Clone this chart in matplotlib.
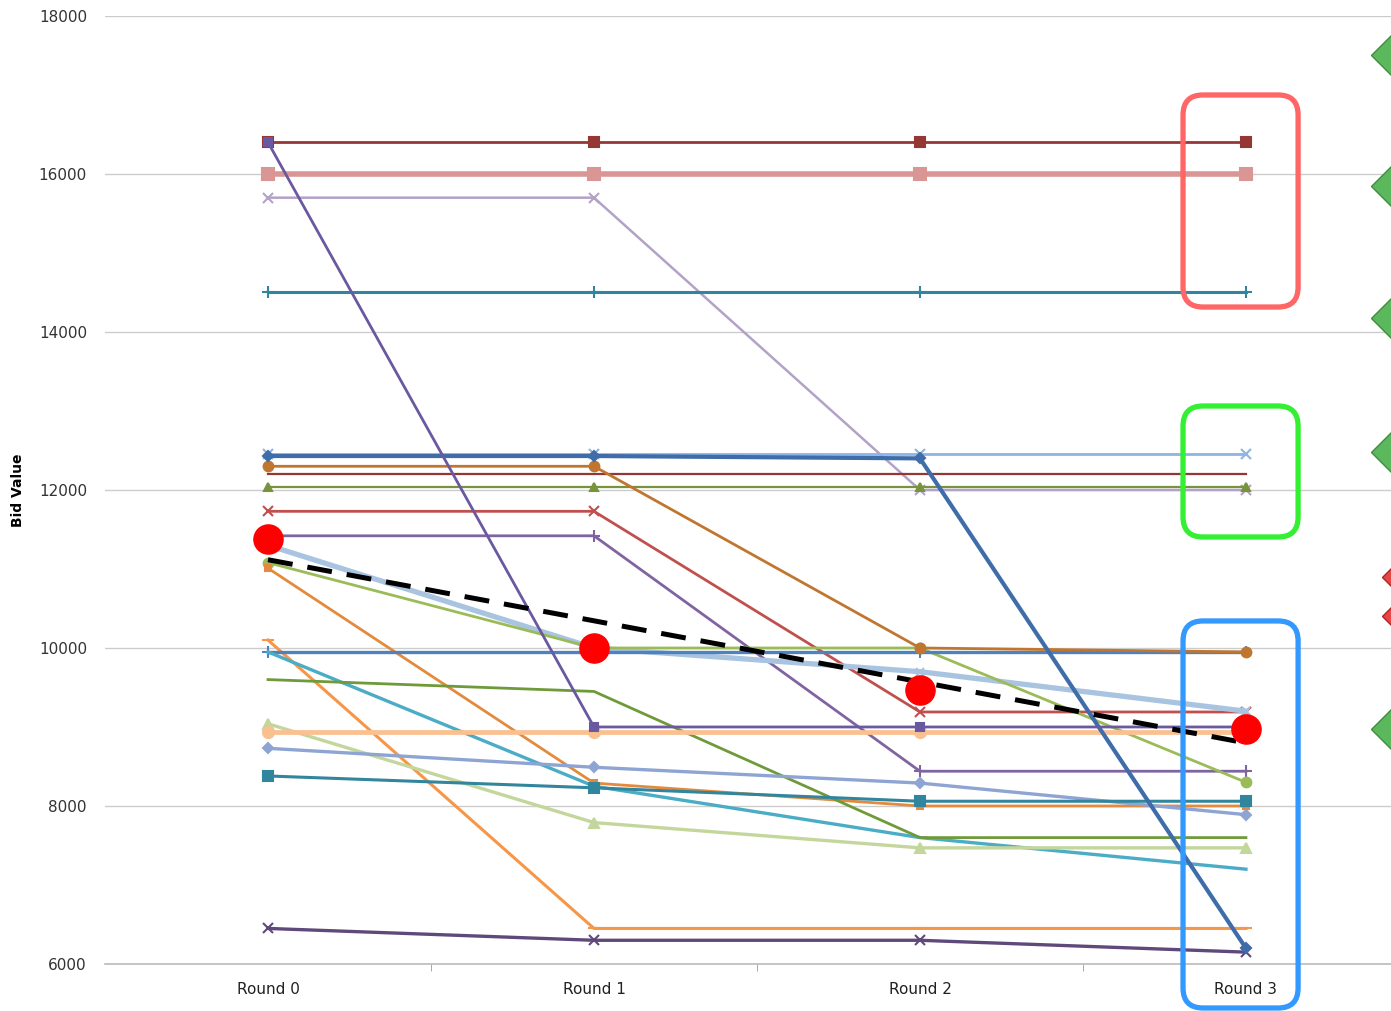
import numpy as np
import matplotlib
matplotlib.use('Agg')
from matplotlib import pyplot as plt
from matplotlib.patches import FancyBboxPatch
from matplotlib.transforms import IdentityTransform

rounds = ['Round 0', 'Round 1', 'Round 2', 'Round 3']

# bidder series
darkred_sq = [16400, 16400, 16400, 16400]
pink_sq = [16000, 16000, 16000, 16000]
lavender_x = [15700, 15700, 12000, 12000]
teal_star = [14500, 14500, 14500, 14500]
blue_drop = [12430, 12430, 12400, 6200]
ltblue_x = [12460, 12460, 12460, 12460]
brown_circ = [12300, 12300, 10000, 9950]
maroon = [12200, 12200, 12200, 12200]
olive_tri = [12040, 12040, 12040, 12040]
red_star = [11730, 11730, 9190, 9190]
purple_plus = [11420, 11420, 8440, 8440]
steel = [11300, 10000, 9700, 9200]
green_circ = [11080, 10000, 10000, 8300]
orange_mid = [11010, 8290, 8000, 8000]
orange_sq = [10100, 6450, 6450, 6450]
blue_plus = [9950, 9950, 9950, 9950]
cyan = [9950, 8250, 7600, 7200]
olive = [9600, 9450, 7600, 7600]
ltgreen_tri = [9040, 7790, 7470, 7470]
peach = [8940, 8940, 8940, 8940]
peri_dia = [8730, 8490, 8290, 7890]
teal_sq = [8380, 8230, 8060, 8060]
dkpurple_x = [6450, 6300, 6300, 6150]
purple_sq = [16400, 9000, 9000, 9000]
means = [11380, 10000, 9470, 8980]

# highlight boxes around Round 3 (value ranges) and side pointers
red_box = (14316, 17000)
green_box = (11405, 13063)
blue_box = (5443, 10342)
green_ptrs = [17506, 15848, 14177, 12481, 8975]
red_ptrs = [10899, 10405]

x = np.arange(len(rounds))

fig = plt.figure(figsize=(13.91, 10.11), dpi=100)
ax = fig.add_axes([0.0755, 0.0465, 0.9245, 0.9377])

series = [
    (lavender_x, '#B3A2C7', 1.8, 'x', 7),
    (teal_star, '#31859C', 2.2, '+', 8),
    (ltblue_x, '#8DB4E2', 2.0, 'x', 7),
    (maroon, '#943634', 1.6, None, 0),
    (olive_tri, '#77933C', 1.6, '^', 6),
    (red_star, '#C0504D', 2.0, 'x', 7),
    (purple_plus, '#8064A2', 2.0, '+', 8),
    (steel, '#A9C4E0', 3.8, 'x', 6),
    (green_circ, '#9BBB59', 2.0, 'o', 7),
    (orange_mid, '#E38A3C', 2.0, 's', 5),
    (orange_sq, '#F79646', 2.2, '_', 9),
    (blue_plus, '#4F81BD', 2.4, '+', 8),
    (cyan, '#4BACC6', 2.4, None, 0),
    (olive, '#6F9A3A', 2.0, None, 0),
    (ltgreen_tri, '#C3D69B', 2.4, '^', 7),
    (peach, '#FAC090', 3.4, 'o', 8),
    (peri_dia, '#8EA4D2', 2.4, 'D', 5),
    (teal_sq, '#31859C', 2.2, 's', 7),
    (dkpurple_x, '#5F497A', 2.4, 'x', 7),
    (brown_circ, '#C0762F', 2.0, 'o', 7),
    (blue_drop, '#3F6DAA', 3.0, 'D', 5),
    (pink_sq, '#D99694', 4.0, 's', 8),
    (darkred_sq, '#953735', 2.0, 's', 7),
    (purple_sq, '#6A58A0', 2.0, 's', 6),
]
for vals, col, lw, mk, ms in series:
    ax.plot(x, vals, color=col, lw=lw, marker=mk, ms=ms, mew=1.5, zorder=3)

# linear trend of the means
k, b = np.polyfit(x, means, 1)
ax.plot(x, k * x + b, color='black', lw=3.6, ls=(0, (5, 3)), zorder=5)
ax.plot(x, means, ls='none', marker='o', ms=21, color='#FF0000', zorder=6)

ax.set_xlim(-0.5, 3.445)
ax.set_ylim(6000, 18000)
ax.set_yticks(np.arange(6000, 18001, 2000))
ax.set_xticks(x)
ax.set_xticklabels(rounds)
ax.set_xticks([0.5, 1.5, 2.5], minor=True)
ax.tick_params(axis='x', which='major', length=0, pad=13, labelsize=11, colors='#222222')
ax.tick_params(axis='x', which='minor', length=5, color='#999999')
ax.tick_params(axis='y', length=0, pad=13, labelsize=11, colors='#333333')
ax.grid(axis='y', color='#CCCCCC', lw=1.0)
ax.set_axisbelow(True)
for s in ['left', 'right', 'top']:
    ax.spines[s].set_visible(False)
ax.spines['bottom'].set_color('#BBBBBB')
ax.spines['bottom'].set_linewidth(1.2)
fig.text(0.013, 0.515, 'Bid Value', rotation=90, fontsize=10, fontweight='bold',
         ha='center', va='center')

# rounded highlight boxes around Round 3
for (lo, hi), col in [(red_box, '#FF6666'), (green_box, '#33F033'), (blue_box, '#3399FF')]:
    (x0, y0), (x1, y1) = ax.transData.transform([(3 - 0.193, lo), (3 + 0.16, hi)])
    box = FancyBboxPatch((x0, y0), x1 - x0, y1 - y0, boxstyle='round,pad=0,rounding_size=20',
                         transform=IdentityTransform(), fill=False, ec=col, lw=3.8, zorder=7)
    fig.add_artist(box)

# pointers at the right edge
ax.plot([3.472] * len(green_ptrs), green_ptrs, ls='none', marker='D', ms=30,
        color='#5CB85C', mec='#3E8E3E', clip_on=False, zorder=8)
ax.plot([3.46] * len(red_ptrs), red_ptrs, ls='none', marker='D', ms=14,
        color='#E84545', mec='#B02525', clip_on=False, zorder=8)

fig.savefig('out.png', dpi=100)
